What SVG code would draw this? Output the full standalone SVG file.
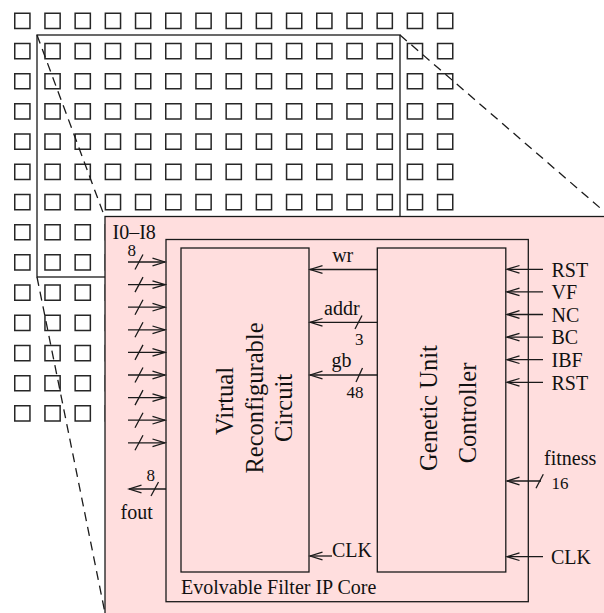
<svg xmlns="http://www.w3.org/2000/svg" width="604" height="613" viewBox="0 0 604 613">
<defs>
<style>
.ln{stroke:#1a1a1a;stroke-width:1.3;fill:none}
.dash{stroke:#1a1a1a;stroke-width:1.3;fill:none;stroke-dasharray:9 6}
.box{stroke:#1a1a1a;stroke-width:1.3;fill:none}
.sq{fill:#fff;stroke:#262626;stroke-width:1.5}
.t{font-family:"Liberation Serif","Times New Roman",serif;font-size:20px;fill:#111}
.s{font-family:"Liberation Serif","Times New Roman",serif;font-size:17px;fill:#111}
.big{font-family:"Liberation Serif","Times New Roman",serif;font-size:24.5px;fill:#111;text-anchor:middle}
.ar{marker-end:url(#arr)}
</style>
<marker id="arr" markerUnits="userSpaceOnUse" markerWidth="16" markerHeight="12" viewBox="-14 -6 16 12" refX="0" refY="0" orient="auto">
<path d="M -12.5 -3.8 L 0 0 L -12.5 3.8" fill="none" stroke="#1a1a1a" stroke-width="1.3"/>
</marker>
<path id="row" class="sq" d="M0.75 0.75h15.2v15.2h-15.2z m30.2 0h15.2v15.2h-15.2z m30.2 0h15.2v15.2h-15.2z m30.2 0h15.2v15.2h-15.2z m30.2 0h15.2v15.2h-15.2z m30.2 0h15.2v15.2h-15.2z m30.2 0h15.2v15.2h-15.2z m30.2 0h15.2v15.2h-15.2z m30.2 0h15.2v15.2h-15.2z m30.2 0h15.2v15.2h-15.2z m30.2 0h15.2v15.2h-15.2z m30.2 0h15.2v15.2h-15.2z m30.2 0h15.2v15.2h-15.2z m30.2 0h15.2v15.2h-15.2z m30.2 0h15.2v15.2h-15.2z"/>
</defs>
<rect width="604" height="613" fill="#fff"/>
<g id="chip-grid">
<use href="#row" x="14" y="12.5"/>
<use href="#row" x="14" y="42.7"/>
<use href="#row" x="14" y="72.9"/>
<use href="#row" x="14" y="103.1"/>
<use href="#row" x="14" y="133.3"/>
<use href="#row" x="14" y="163.5"/>
<use href="#row" x="14" y="193.7"/>
<use href="#row" x="14" y="223.9"/>
<use href="#row" x="14" y="254.1"/>
<use href="#row" x="14" y="284.3"/>
<use href="#row" x="14" y="314.5"/>
<use href="#row" x="14" y="344.7"/>
<use href="#row" x="14" y="374.9"/>
<use href="#row" x="14" y="405.1"/>
</g>
<g id="zoom-outline">
<rect class="box" x="37" y="35" width="363" height="242"/>
<line class="dash" x1="37" y1="35" x2="104.5" y2="216.5"/>
<line class="dash" x1="37" y1="277" x2="105" y2="613"/>
<line class="dash" x1="400" y1="35" x2="610" y2="216.5"/>
</g>
<g id="magnified">
<rect x="105" y="216.5" width="520" height="420" fill="#ffdede" stroke="#1a1a1a" stroke-width="1.3"/>
</g>
<g id="ip-core">
<rect class="box" x="166" y="239.5" width="362.3" height="362.2"/>
<text class="t" x="181" y="594.3">Evolvable Filter IP Core</text>
</g>
<g id="vrc">
<rect class="box" x="181" y="248" width="128" height="324"/>
<text class="big" transform="translate(233,401) rotate(-90)">Virtual</text>
<text class="big" transform="translate(262.5,398) rotate(-90)">Reconfigurable</text>
<text class="big" transform="translate(292,408) rotate(-90)">Circuit</text>
</g>
<g id="guc">
<rect class="box" x="377.3" y="248" width="128.5" height="324"/>
<text class="big" transform="translate(437.3,408) rotate(-90)">Genetic Unit</text>
<text class="big" transform="translate(476,413) rotate(-90)">Controller</text>
</g>
<g id="connectors">
<line class="ln ar" x1="128" y1="262" x2="165" y2="262"/>
<line class="ln ar" x1="128" y1="284.6" x2="165" y2="284.6"/>
<line class="ln ar" x1="128" y1="307.2" x2="165" y2="307.2"/>
<line class="ln ar" x1="128" y1="329.8" x2="165" y2="329.8"/>
<line class="ln ar" x1="128" y1="352.4" x2="165" y2="352.4"/>
<line class="ln ar" x1="128" y1="375" x2="165" y2="375"/>
<line class="ln ar" x1="128" y1="397.6" x2="165" y2="397.6"/>
<line class="ln ar" x1="128" y1="420.2" x2="165" y2="420.2"/>
<line class="ln ar" x1="128" y1="442.8" x2="165" y2="442.8"/>
<path class="ln" d="M135 269.5 L143 254.5 M135 292.1 L143 277.1 M135 314.7 L143 299.7 M135 337.3 L143 322.3 M135 359.9 L143 344.9 M135 382.5 L143 367.5 M135 405.1 L143 390.1 M135 427.7 L143 412.7 M135 450.3 L143 435.3"/>
<line class="ln ar" x1="166" y1="489" x2="129" y2="489"/>
<line class="ln" x1="151" y1="496" x2="158.5" y2="482"/>
<line class="ln ar" x1="377.3" y1="269.5" x2="310" y2="269.5"/>
<line class="ln ar" x1="377.3" y1="322.3" x2="310" y2="322.3"/>
<line class="ln" x1="355" y1="329" x2="362" y2="315.5"/>
<line class="ln ar" x1="377.3" y1="375" x2="310" y2="375"/>
<line class="ln" x1="356" y1="382" x2="362.5" y2="368"/>
<line class="ln ar" x1="332" y1="556" x2="310" y2="556"/>
<line class="ln ar" x1="543" y1="269.3" x2="507" y2="269.3"/>
<line class="ln ar" x1="543" y1="291.9" x2="507" y2="291.9"/>
<line class="ln ar" x1="543" y1="314.5" x2="507" y2="314.5"/>
<line class="ln ar" x1="543" y1="337.1" x2="507" y2="337.1"/>
<line class="ln ar" x1="543" y1="359.7" x2="507" y2="359.7"/>
<line class="ln ar" x1="543" y1="382.3" x2="507" y2="382.3"/>
<line class="ln ar" x1="541" y1="481" x2="507" y2="481"/>
<line class="ln" x1="536" y1="488.3" x2="543.3" y2="474.3"/>
<line class="ln ar" x1="543" y1="556.7" x2="507" y2="556.7"/>
</g>
<g id="labels">
<text class="t" x="112.5" y="239">I0–I8</text>
<text class="s" x="127.5" y="255.5">8</text>
<text class="s" x="146.5" y="481">8</text>
<text class="t" x="120.5" y="519">fout</text>
<text class="t" x="342.7" y="262" text-anchor="middle">wr</text>
<text class="t" x="324" y="315">addr</text>
<text class="s" x="355" y="345">3</text>
<text class="t" x="331.5" y="367">gb</text>
<text class="s" x="346.5" y="397.5">48</text>
<text class="t" x="332" y="557">CLK</text>
<text class="t" x="551.5" y="276.6">RST</text>
<text class="t" x="551.5" y="299.2">VF</text>
<text class="t" x="551.5" y="321.8">NC</text>
<text class="t" x="551.5" y="344.4">BC</text>
<text class="t" x="551.5" y="367">IBF</text>
<text class="t" x="551.5" y="389.6">RST</text>
<text class="t" x="544" y="465">fitness</text>
<text class="s" x="551.5" y="488.5">16</text>
<text class="t" x="551" y="564.3">CLK</text>
</g>
</svg>
